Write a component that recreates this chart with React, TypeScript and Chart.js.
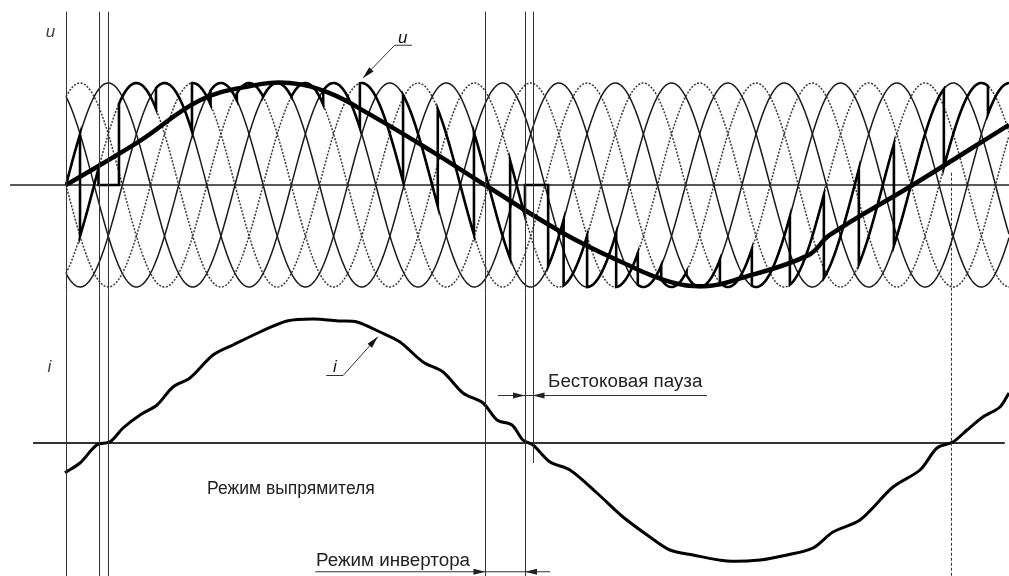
import React, { useEffect, useRef } from "react";
import { Chart, registerables } from "chart.js";

Chart.register(...registerables);

// ---- time axis (ms): supply 50 Hz, output fundamental 10 Hz ----
const timeStartMs = -7.81;
const timeEndMs = 111.6;

// ---- supply phase voltages (p.u.) ----
const supplyFreqHz = 50;
const supplyAmplitude = 1;
const supplyPhaseDeg = [0, 60, 120, 180, 240, 300];
const supplySolid = [true, false, true, false, true, false];
const supplyStartMs = 0;

// ---- output voltage fundamental u ----
const uRefTime = [0, 8.52, 15.86, 21.8, 26.5, 31.2, 36.0, 43.3, 49.6, 58.8, 65.6, 71.5, 76.0, 80.0, 87.8, 90.4, 100.2, 111.6];
const uRefValue = [0, 0.42, 0.83, 0.97, 1.0, 0.9, 0.69, 0.33, 0.0, -0.47, -0.75, -0.95, -0.99, -0.91, -0.69, -0.49, 0.0, 0.59];

// ---- converter output voltage: firing instants (ms) and phase conducting after it (-1 = no conduction) ----
const fireTime = [0, 1.66, 3.85, 6.27, 10.65, 14.91, 17.11, 20.22, 23.33, 26.67, 30.44, 34.78, 39.89, 44.0, 48.28, 52.56, 54.32, 57.06, 58.89, 61.67, 65.11, 67.67, 70.44, 73.44, 77.39, 81.17, 85.67, 89.69, 93.83, 97.98, 103.89, 109.11];
const firePhase = [0, 1, -1, 1, 2, 3, 4, 5, 0, 1, 2, 3, 4, 5, 0, 1, -1, 0, 1, 2, 3, 4, 5, 0, 1, 2, 3, 4, 5, 0, 1, 2];

// ---- load current i (p.u.) ----
const iTime = [-0.12, 1.66, 3.63, 5.21, 6.75, 8.76, 10.77, 12.66, 14.67, 17.4, 19.76, 22.96, 26.15, 29.23, 32.43, 34.44, 37.16, 39.53, 42.25, 44.62, 46.98, 49.35, 51.01, 52.78, 54.08, 55.27, 57.28, 59.64, 62.84, 65.92, 69.11, 71.48, 74.2, 78.22, 82.13, 85.33, 88.4, 90.77, 93.96, 97.87, 101.07, 103.08, 104.97, 106.63, 108.52, 110.53, 111.6];
const iValue = [-0.238, -0.16, -0.016, 0.01, 0.12, 0.224, 0.304, 0.448, 0.52, 0.704, 0.784, 0.888, 0.976, 0.992, 0.976, 0.968, 0.888, 0.808, 0.648, 0.568, 0.4, 0.32, 0.184, 0.144, 0.024, -0.016, -0.152, -0.216, -0.4, -0.592, -0.752, -0.856, -0.896, -0.944, -0.936, -0.896, -0.84, -0.712, -0.616, -0.352, -0.216, -0.04, 0.008, 0.104, 0.208, 0.288, 0.4];

// ---- marker instants (ms) ----
const boundaryTimes = [0, 3.85, 5.0, 49.64, 54.32];
const pauseEndTime = 55.21;
const currentZeroTime = 104.79;

// ---- texts ----
const labelU = "u";
const labelI = "i";
const textPause = "Бестоковая пауза";
const textRectifier = "Режим выпрямителя";
const textInverter = "Режим инвертора";

function supplyValue(t: number, phaseDeg: number) {
  const ang = 2 * Math.PI * supplyFreqHz * t / 1000 - (phaseDeg * Math.PI) / 180;
  return supplyAmplitude * Math.sin(ang);
}

function buildSupply(k: number) {
  const pts: { x: number; y: number }[] = [];
  const step = 0.15;
  for (let t = supplyStartMs; t <= timeEndMs + 1e-9; t += step) pts.push({ x: t, y: supplyValue(t, supplyPhaseDeg[k]) });
  return pts;
}

function buildOutput() {
  const pts: { x: number; y: number }[] = [];
  for (let s = 0; s < fireTime.length; s++) {
    const t0 = fireTime[s];
    const t1 = s + 1 < fireTime.length ? fireTime[s + 1] : timeEndMs;
    const k = firePhase[s];
    const n = Math.max(2, Math.ceil((t1 - t0) / 0.15));
    for (let m = 0; m <= n; m++) {
      const t = t0 + ((t1 - t0) * m) / n;
      pts.push({ x: t, y: k < 0 ? 0 : supplyValue(t, supplyPhaseDeg[k]) });
    }
  }
  return pts;
}

const FONT = "'Liberation Sans', Arial, sans-serif";

function arrowHead(ctx: CanvasRenderingContext2D, tx: number, ty: number, fx: number, fy: number, len = 12, half = 3) {
  const a = Math.atan2(ty - fy, tx - fx);
  ctx.beginPath();
  ctx.moveTo(tx, ty);
  ctx.lineTo(tx - len * Math.cos(a) + half * Math.sin(a), ty - len * Math.sin(a) - half * Math.cos(a));
  ctx.lineTo(tx - len * Math.cos(a) - half * Math.sin(a), ty - len * Math.sin(a) + half * Math.cos(a));
  ctx.closePath();
  ctx.fill();
}

const annotations = {
  id: "annotations",
  afterDatasetsDraw(chart: any) {
    const ctx: CanvasRenderingContext2D = chart.ctx;
    const sx = chart.scales.x;
    const su = chart.scales.yU;
    const si = chart.scales.yI;
    const X = (t: number) => sx.getPixelForValue(t);
    const U = (v: number) => su.getPixelForValue(v);
    const I = (v: number) => si.getPixelForValue(v);
    const bottom = chart.chartArea.bottom;
    ctx.save();
    ctx.strokeStyle = "#333";
    ctx.fillStyle = "#111";
    ctx.lineWidth = 1;
    // vertical boundary lines
    for (const t of boundaryTimes) {
      ctx.beginPath();
      ctx.moveTo(Math.round(X(t)) + 0.5, U(1.7));
      ctx.lineTo(Math.round(X(t)) + 0.5, bottom);
      ctx.stroke();
    }
    ctx.beginPath();
    ctx.moveTo(Math.round(X(pauseEndTime)) + 0.5, U(1.7));
    ctx.lineTo(Math.round(X(pauseEndTime)) + 0.5, I(-0.16));
    ctx.stroke();
    // dashed line at current zero
    ctx.setLineDash([3, 2]);
    ctx.beginPath();
    ctx.moveTo(Math.round(X(currentZeroTime)) + 0.5, U(0.12));
    ctx.lineTo(Math.round(X(currentZeroTime)) + 0.5, bottom);
    ctx.stroke();
    ctx.setLineDash([]);

    // axis labels
    ctx.font = "italic 17px " + FONT;
    ctx.fillStyle = "#444";
    ctx.textBaseline = "alphabetic";
    ctx.fillText(labelU, X(-2.4), U(1.45));
    ctx.fillText(labelI, X(-2.2), I(0.57));

    // leader u
    ctx.fillStyle = "#111";
    ctx.fillText(labelU, X(39.3), U(1.39));
    ctx.beginPath();
    ctx.moveTo(X(40.95), U(1.37));
    ctx.lineTo(X(38.9), U(1.37));
    ctx.lineTo(X(35.15), U(1.05));
    ctx.stroke();
    arrowHead(ctx, X(35.15), U(1.05), X(38.9), U(1.37));
    // leader i
    ctx.fillText(labelI, X(31.6), I(0.57));
    ctx.beginPath();
    ctx.moveTo(X(30.8), I(0.54));
    ctx.lineTo(X(32.8), I(0.54));
    ctx.lineTo(X(36.9), I(0.85));
    ctx.stroke();
    arrowHead(ctx, X(36.9), I(0.85), X(32.8), I(0.54));

    // texts
    ctx.fillStyle = "#222";
    ctx.font = "18.8px " + FONT;
    ctx.fillText(textPause, X(57.05), I(0.45));
    ctx.fillText(textInverter, X(29.6), I(-0.98));
    ctx.font = "17.5px " + FONT;
    ctx.fillText(textRectifier, X(16.7), I(-0.41));

    // dimension: pause
    ctx.beginPath();
    ctx.moveTo(X(51.12), I(0.38));
    ctx.lineTo(X(75.86), I(0.38));
    ctx.stroke();
    arrowHead(ctx, X(54.32), I(0.38), X(50), I(0.38));
    arrowHead(ctx, X(55.21), I(0.38), X(60), I(0.38));
    // dimension: inverter
    ctx.beginPath();
    ctx.moveTo(X(29.5), I(-1.03));
    ctx.lineTo(X(57.3), I(-1.03));
    ctx.stroke();
    arrowHead(ctx, X(49.64), I(-1.03), X(45), I(-1.03));
    arrowHead(ctx, X(54.32), I(-1.03), X(59), I(-1.03));
    ctx.restore();
  },
};

export default function App() {
  const ref = useRef<HTMLCanvasElement | null>(null);
  useEffect(() => {
    if (!ref.current) return;
    const supplySets = supplyPhaseDeg.map((_, k) => ({
      data: buildSupply(k),
      yAxisID: "yU",
      borderColor: supplySolid[k] ? "#1a1a1a" : "#3a3a3a",
      borderWidth: supplySolid[k] ? 1.5 : 1.5,
      borderDash: supplySolid[k] ? [] : [2, 1.5],
      pointRadius: 0,
      tension: 0,
    }));
    const chart = new Chart(ref.current, {
      type: "line",
      data: {
        datasets: [
          {
            data: uRefTime.map((t, n) => ({ x: t, y: uRefValue[n] })),
            yAxisID: "yU",
            borderColor: "#000",
            borderWidth: 4.5,
            pointRadius: 0,
            tension: 0.4,
          },
          {
            data: iTime.map((t, n) => ({ x: t, y: iValue[n] })),
            yAxisID: "yI",
            borderColor: "#000",
            borderWidth: 3,
            pointRadius: 0,
            tension: 0.3,
          },
          {
            data: buildOutput(),
            yAxisID: "yU",
            borderColor: "#000",
            borderWidth: 2.6,
            pointRadius: 0,
            tension: 0,
          },
          {
            data: [{ x: -6.63, y: 0 }, { x: timeEndMs, y: 0 }],
            yAxisID: "yU",
            borderColor: "#222",
            borderWidth: 1.6,
            pointRadius: 0,
          },
          {
            data: [{ x: -3.9, y: 0 }, { x: 111.1, y: 0 }],
            yAxisID: "yI",
            borderColor: "#333",
            borderWidth: 1.8,
            pointRadius: 0,
          },
          ...supplySets,
        ] as any,
      },
      options: {
        animation: false,
        responsive: false,
        devicePixelRatio: 1,
        layout: { padding: 0 },
        plugins: { legend: { display: false }, tooltip: { enabled: false } },
        events: [],
        scales: {
          x: { type: "linear", min: timeStartMs, max: timeEndMs, display: false },
          yU: { type: "linear", min: -3.8333, max: 1.8137, display: false },
          yI: { type: "linear", min: -1.064, max: 3.544, display: false },
        },
      },
      plugins: [annotations],
    });
    return () => chart.destroy();
  }, []);
  return (
    <div style={{ position: "fixed", left: 0, top: 0, width: 1009, height: 576, background: "#fff" }}>
      <canvas ref={ref} width={1009} height={576} />
    </div>
  );
}
